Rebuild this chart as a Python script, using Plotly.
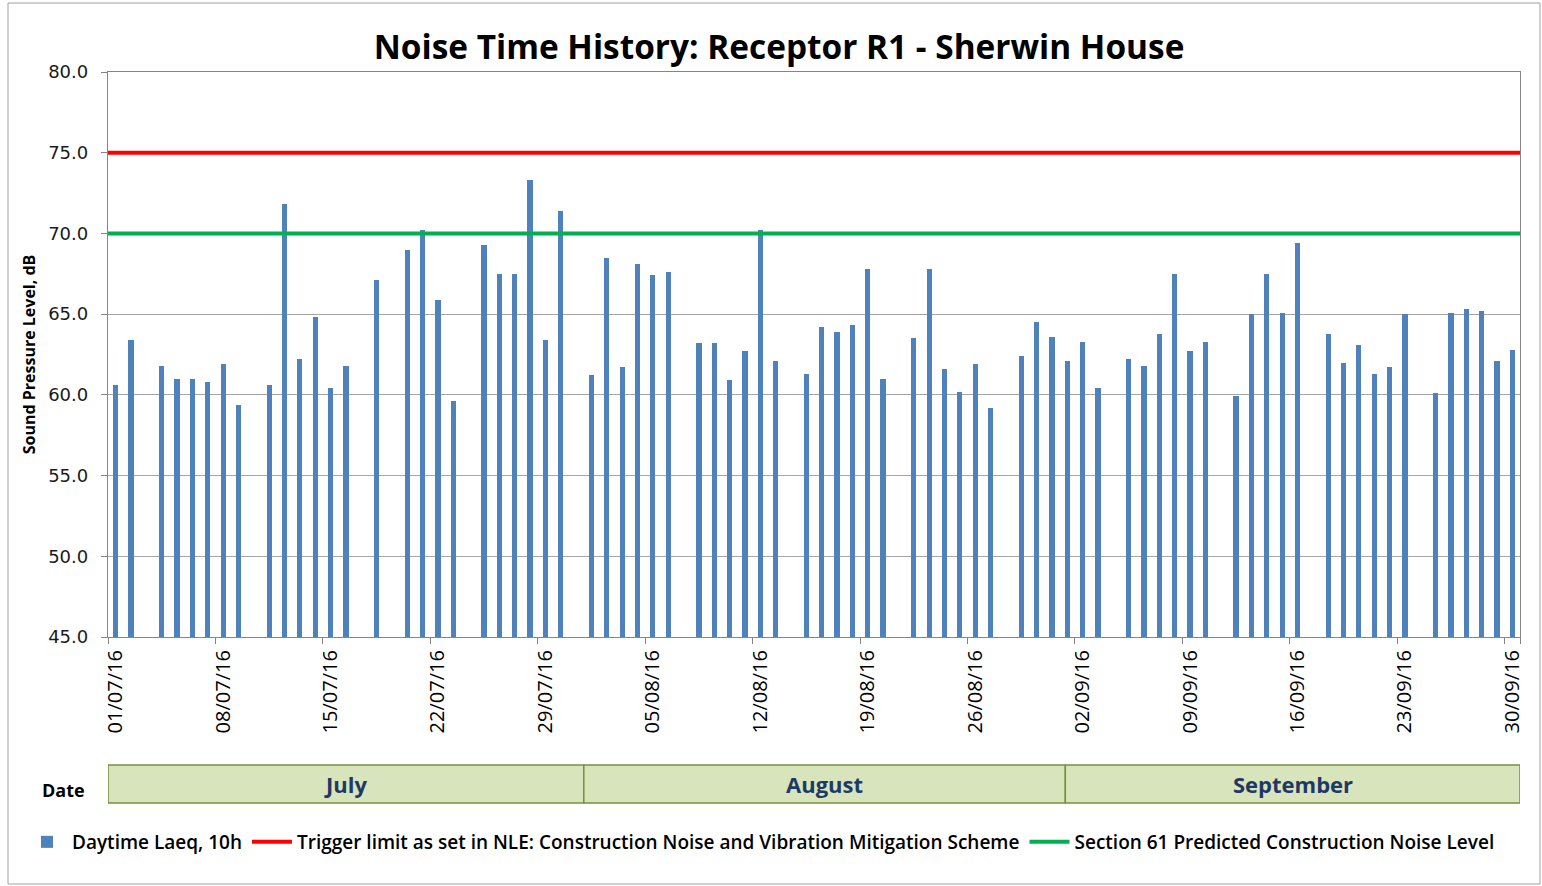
import plotly.graph_objects as go
import pandas as pd

# ---------------- data ----------------
start_date = "2016-07-01"
n_days = 92
laeq_10h = [
    60.6, 63.4, None, 61.8, 61.0, 61.0, 60.8, 61.9, 59.4, None,
    60.6, 71.8, 62.2, 64.8, 60.4, 61.8, None, 67.1, None, 69.0,
    70.2, 65.9, 59.6, None, 69.3, 67.5, 67.5, 73.3, 63.4, 71.4,
    None, 61.2, 68.5, 61.7, 68.1, 67.4, 67.6, None, 63.2, 63.2,
    60.9, 62.7, 70.2, 62.1, None, 61.3, 64.2, 63.9, 64.3, 67.8,
    61.0, None, 63.5, 67.8, 61.6, 60.2, 61.9, 59.2, None, 62.4,
    64.5, 63.6, 62.1, 63.3, 60.4, None, 62.2, 61.8, 63.8, 67.5,
    62.7, 63.3, None, 59.9, 65.0, 67.5, 65.1, 69.4, None, 63.8,
    62.0, 63.1, 61.3, 61.7, 65.0, None, 60.1, 65.1, 65.3, 65.2,
    62.1, 62.8,
]
trigger_limit = 75.0
section61_level = 70.0
months = ["July", "August", "September"]
month_bounds = ["2016-06-30 12:00", "2016-07-31 12:00", "2016-08-31 21:00", "2016-09-30 12:00"]
tick_every = 7

dates = pd.date_range(start_date, periods=n_days, freq="D")
x_lo = dates[0] - pd.Timedelta(hours=12)
x_hi = dates[-1] + pd.Timedelta(hours=12)
tick_dates = dates[::tick_every]
tick_text = [d.strftime("%d/%m/%y") for d in tick_dates]
tick_marks = [d - pd.Timedelta(hours=12) for d in tick_dates] + [x_hi]

# ---------------- layout geometry ----------------
W, H = 1542, 886
L, R, T, B = 108, 22, 72, 249
pw, ph = W - L - R, H - T - B
def px_x(p): return (p - L) / pw
def px_y(p): return (H - B - p) / ph

FONT = "Open Sans"
BLUE = "#4F81BD"
RED = "#FF0000"
GREEN = "#00B050"

fig = go.Figure()
fig.add_trace(go.Bar(
    x=dates, y=laeq_10h, name="Daytime Laeq, 10h",
    marker=dict(color=BLUE, line=dict(width=0)),
    width=0.34 * 86400000,
))
fig.add_trace(go.Scatter(
    x=[x_lo, x_hi], y=[trigger_limit, trigger_limit], mode="lines",
    line=dict(color=RED, width=4), xaxis="x2",
    name="Trigger limit as set in NLE: Construction Noise and Vibration Mitigation Scheme",
))
fig.add_trace(go.Scatter(
    x=[x_lo, x_hi], y=[section61_level, section61_level], mode="lines",
    line=dict(color=GREEN, width=4), xaxis="x2",
    name="Section 61 Predicted Construction Noise Level",
))

shapes = []
annotations = []
for i, m in enumerate(months):
    shapes.append(dict(
        type="rect", xref="x", yref="paper",
        x0=month_bounds[i], x1=month_bounds[i + 1],
        y0=px_y(803), y1=px_y(765),
        fillcolor="#D8E4BC", line=dict(color="#77933C", width=1.5), layer="below",
    ))
    mid = pd.Timestamp(month_bounds[i]) + (pd.Timestamp(month_bounds[i + 1]) - pd.Timestamp(month_bounds[i])) / 2
    annotations.append(dict(
        x=mid, y=px_y(784), xref="x", yref="paper", text="<b>%s</b>" % m,
        showarrow=False, yanchor="middle", xanchor="center",
        font=dict(family=FONT, size=22, color="#1F3864"),
    ))
annotations.append(dict(
    x=px_x(63), y=px_y(790), xref="paper", yref="paper", text="<b>Date</b>",
    showarrow=False, yanchor="middle", xanchor="center",
    font=dict(family=FONT, size=18, color="#000000"),
))
# outer chart border
shapes.append(dict(
    type="rect", xref="paper", yref="paper",
    x0=px_x(8), x1=px_x(1540), y0=px_y(884), y1=px_y(3),
    line=dict(color="#A0A0A0", width=1), fillcolor="rgba(0,0,0,0)",
))

fig.update_layout(
    width=W, height=H,
    margin=dict(l=L, r=R, t=T, b=B, autoexpand=False),
    paper_bgcolor="white", plot_bgcolor="white",
    font=dict(family=FONT, color="#000000"),
    title=dict(text="<b>Noise Time History: Receptor R1 - Sherwin House</b>",
               x=779 / W, xanchor="center", y=1 - 47 / H, yanchor="middle",
               font=dict(family=FONT, size=33.4, color="#000000")),
    bargap=0,
    showlegend=True,
    legend=dict(orientation="h", x=px_x(22), xanchor="left", y=px_y(842), yanchor="middle",
                font=dict(family=FONT, size=19, color="#000000", weight=600),
                itemwidth=40, tracegroupgap=0, bgcolor="rgba(0,0,0,0)"),
    xaxis=dict(
        type="date", range=[x_lo, x_hi],
        tickmode="array", tickvals=list(tick_dates), ticktext=tick_text,
        tickangle=-90, ticks="", showgrid=False, ticklabelstandoff=4,
        tickfont=dict(family=FONT, size=20, color="#000000"),
        showline=True, linecolor="#868686", linewidth=1.3, mirror=True,
    ),
    xaxis2=dict(
        type="date", range=[x_lo, x_hi], overlaying="x", anchor="y", side="bottom",
        tickmode="array", tickvals=tick_marks, showticklabels=False,
        ticks="outside", ticklen=6, tickcolor="#868686", tickwidth=1.3,
        showgrid=False, showline=False,
    ),
    yaxis=dict(
        range=[45, 80], dtick=5, tick0=45, tickformat=".1f",
        showgrid=True, gridcolor="#A6A6A6", gridwidth=1.3,
        tickfont=dict(family="DejaVu Sans", size=18, color="#1a1a1a"),
        ticks="outside", ticklen=6, tickcolor="#868686", ticklabelstandoff=9,
        showline=True, linecolor="#868686", linewidth=1.3, mirror=True,
        title=dict(text="<b>Sound Pressure Level, dB</b>", standoff=8,
                   font=dict(family=FONT, size=16, color="#000000")),
    ),
    shapes=shapes, annotations=annotations,
)

fig.write_html("out.html", config={"displayModeBar": False},
               post_script="document.body.style.margin='0';document.body.style.overflow='hidden';")
